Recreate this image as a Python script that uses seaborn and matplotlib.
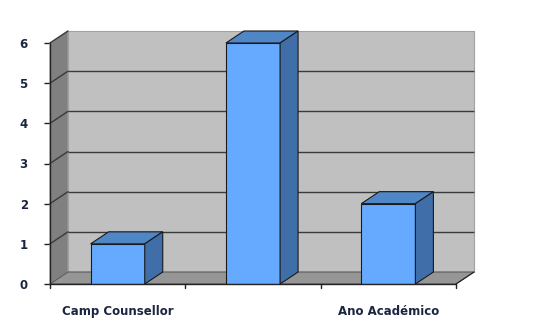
import matplotlib
matplotlib.use("Agg")
import matplotlib.pyplot as plt
from matplotlib.patches import Polygon
import seaborn as sns
import pandas as pd

# ---- data ----
categories = ["Camp Counsellor", "Intercâmbio", "Ano Académico"]
tick_labels = ["Camp Counsellor", "", "Ano Académico"]
values = [1, 6, 2]
y_ticks = [0, 1, 2, 3, 4, 5, 6]

sns.set_theme(style="white")
plt.rcParams['font.family'] = ['DejaVu Sans']

W, H = 547, 325
fig = plt.figure(figsize=(W / 100, H / 100), dpi=100)
fig.patch.set_facecolor("white")
ax = fig.add_axes([50 / W, 41 / H, (456 - 50) / W, (282 - 41) / H])

df = pd.DataFrame({"cat": categories, "val": values})
sns.barplot(data=df, x="cat", y="val", order=categories, width=0.4,
            color="#66aaff", saturation=1, edgecolor="#1a1a1a", linewidth=0.8,
            ax=ax, zorder=5)

ymax = max(y_ticks)
ax.set_xlim(-0.5, len(categories) - 0.5)
ax.set_ylim(0, ymax)

# depth offset in data units
dx = 18 / ((456 - 50) / len(categories))
dy = 12 / ((282 - 41) / ymax)
x0, x1 = -0.5, len(categories) - 0.5

wall_col = "#c0c0c0"
floor_col = "#969696"
side_col = "#808080"
edge = "#5a5a5a"

# back wall
ax.add_patch(Polygon([(x0 + dx, dy), (x1 + dx, dy), (x1 + dx, ymax + dy), (x0 + dx, ymax + dy)],
                     closed=True, facecolor=wall_col, edgecolor="#a0a0a0", lw=0.8,
                     zorder=1, clip_on=False))
# left side wall
ax.add_patch(Polygon([(x0, 0), (x0 + dx, dy), (x0 + dx, ymax + dy), (x0, ymax)],
                     closed=True, facecolor=side_col, edgecolor="#a0a0a0", lw=0.8,
                     zorder=1, clip_on=False))
# floor
ax.add_patch(Polygon([(x0, 0), (x1, 0), (x1 + dx, dy), (x0 + dx, dy)],
                     closed=True, facecolor=floor_col, edgecolor=edge, lw=0.8,
                     zorder=2, clip_on=False))
# gridlines
for t in y_ticks[1:-1]:
    ax.plot([x0 + dx, x1 + dx], [t + dy, t + dy], color="#3a3a3a", lw=1.0,
            zorder=3, clip_on=False, solid_capstyle="butt")
for t in y_ticks[1:]:
    ax.plot([x0, x0 + dx], [t, t + dy], color="#3a3a3a", lw=1.0,
            zorder=3, clip_on=False)

# 3D faces of bars
for p in ax.patches[:]:
    if not hasattr(p, "get_width") or p.get_zorder() != 5:
        continue
    bx, by = p.get_x(), p.get_y()
    bw, bh = p.get_width(), p.get_height()
    top = [(bx, by + bh), (bx + bw, by + bh), (bx + bw + dx, by + bh + dy), (bx + dx, by + bh + dy)]
    side = [(bx + bw, by), (bx + bw + dx, by + dy), (bx + bw + dx, by + bh + dy), (bx + bw, by + bh)]
    ax.add_patch(Polygon(top, closed=True, facecolor="#4f86c6", edgecolor="#1a1a1a",
                         lw=0.8, zorder=5, clip_on=False))
    ax.add_patch(Polygon(side, closed=True, facecolor="#3f6ea8", edgecolor="#1a1a1a",
                         lw=0.8, zorder=5, clip_on=False))

# axes lines
for s in ax.spines.values():
    s.set_visible(False)
ax.plot([x0, x0], [0, ymax], color="#222222", lw=1.0, zorder=6, clip_on=False)
ax.plot([x0, x1], [0, 0], color="#222222", lw=1.0, zorder=6, clip_on=False)
ax.plot([x1, x1 + dx], [0, dy], color="#222222", lw=0.8, zorder=6, clip_on=False)

ax.set_yticks(y_ticks)
ax.set_yticklabels([str(t) for t in y_ticks], fontsize=8.5, fontweight="bold", color="#1c2540")
ax.set_xticks(range(len(categories)))
ax.set_xticklabels(tick_labels, fontsize=8.5, fontweight="bold", color="#1c2540")
ax.tick_params(axis="y", length=4, width=1, color="#222222", pad=12, left=True)
ax.tick_params(axis="x", length=0, pad=15)
# category boundary ticks
for b in [i - 0.5 for i in range(len(categories) + 1)]:
    ax.plot([b, b], [0, -0.1], color="#222222", lw=1.0, zorder=6, clip_on=False)
ax.set_xlabel("")
ax.set_ylabel("")
ax.grid(False)
ax.set_facecolor("none")

fig.savefig("out.png", dpi=100, facecolor="white")
